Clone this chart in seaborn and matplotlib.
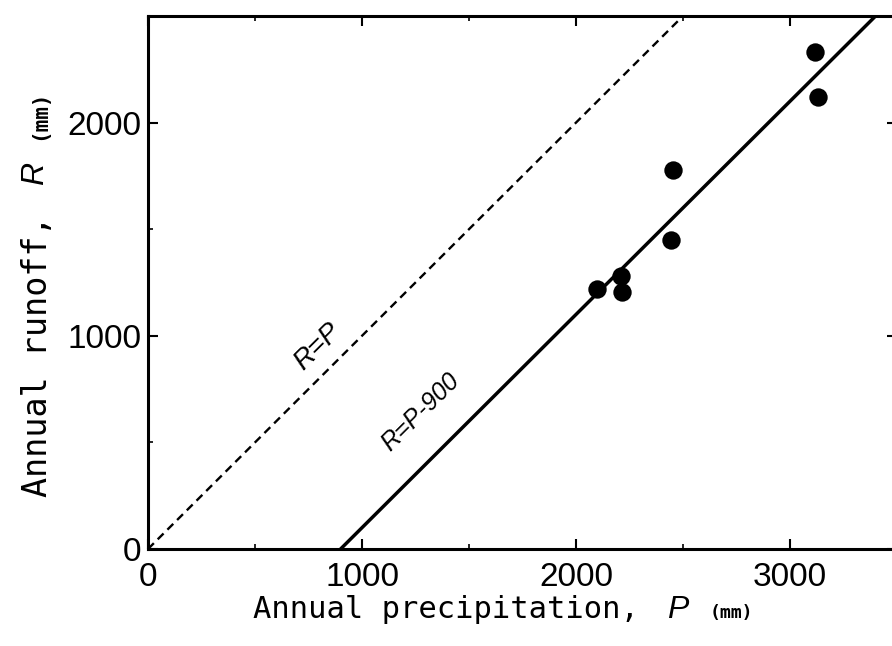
import matplotlib
matplotlib.use("Agg")
import matplotlib.pyplot as plt
import seaborn as sns
import numpy as np
import pandas as pd
from matplotlib.ticker import MultipleLocator

# ---- data ----
precip = [2100, 2210, 2215, 2455, 2445, 3115, 3130]   # annual precipitation P (mm)
runoff = [1220, 1280, 1205, 1780, 1450, 2330, 2120]   # annual runoff R (mm)
loss = 900                                             # R = P - 900
x_range = [0, 3500]
y_range = [0, 2500]
x_ticks = [0, 1000, 2000, 3000]
y_ticks = [0, 1000, 2000]

sns.set_theme(style="ticks")
sans = "Liberation Sans"
mono = "DejaVu Sans Mono"

W, H = 892, 646
fig = plt.figure(figsize=(W / 100, H / 100), dpi=100)
ax = fig.add_axes([148 / W, 97 / H, 749 / W, 533 / H])

def px(x, y):
    return (x / W, 1 - y / H)

df = pd.DataFrame({"P": precip, "R": runoff})
sns.scatterplot(data=df, x="P", y="R", s=175, color="black", edgecolor="black",
                linewidth=0, ax=ax, zorder=5, legend=False)

one = np.array(x_range, dtype=float)
sns.lineplot(x=one, y=one, color="black", linewidth=1.7, linestyle=(0, (3.5, 2.3)),
             ax=ax, legend=False)
lx = np.array([loss, x_range[1]], dtype=float)
sns.lineplot(x=lx, y=lx - loss, color="black", linewidth=2.5, ax=ax, legend=False)

ax.set_xlim(*x_range)
ax.set_ylim(*y_range)
ax.set_xticks(x_ticks)
ax.set_yticks(y_ticks)
ax.xaxis.set_minor_locator(MultipleLocator(500))
ax.yaxis.set_minor_locator(MultipleLocator(500))
ax.tick_params(which="both", direction="in", top=True, right=True, color="black")
ax.tick_params(which="major", length=7.5, width=1.5)
ax.tick_params(which="minor", length=3.5, width=1.2)
ax.tick_params(axis="x", which="major", pad=9, labelsize=24)
ax.tick_params(axis="y", which="major", pad=5, labelsize=24)
for lab in ax.get_xticklabels() + ax.get_yticklabels():
    lab.set_family(sans)
    lab.set_color("black")
for s in ax.spines.values():
    s.set_linewidth(2.2)
    s.set_color("black")
ax.set_xlabel("")
ax.set_ylabel("")

# line labels
ax.text(794, 951, "R=P", rotation=44.8, rotation_mode="anchor", ha="center", va="center",
        fontstyle="italic", family=sans, fontsize=20, color="black")
ax.text(1275, 640, "R=P-900", rotation=44.8, rotation_mode="anchor", ha="center", va="center",
        fontstyle="italic", family=sans, fontsize=18, color="black")

# x-axis label pieces
fig.text(*px(253, 618), "Annual precipitation,", family=mono, fontsize=22,
         ha="left", va="baseline", color="black")
fig.text(*px(667, 618), "P", family=sans, fontstyle="italic", fontsize=23,
         ha="left", va="baseline", color="black")
fig.text(*px(710, 618), "(mm)", family=mono, fontweight="bold", fontsize=13,
         ha="left", va="baseline", color="black")

# y-axis label pieces
fig.text(*px(47, 497), "Annual runoff,", family=mono, fontsize=24, rotation=90,
         rotation_mode="anchor", ha="left", va="baseline", color="black")
fig.text(*px(43, 185), "R", family=sans, fontstyle="italic", fontsize=23, rotation=90,
         rotation_mode="anchor", ha="left", va="baseline", color="black")
fig.text(*px(45, 140), "(mm)", family=mono, fontweight="bold", fontsize=15, rotation=90,
         rotation_mode="anchor", ha="left", va="baseline", color="black")

fig.savefig("out.png", dpi=100, facecolor="white")
